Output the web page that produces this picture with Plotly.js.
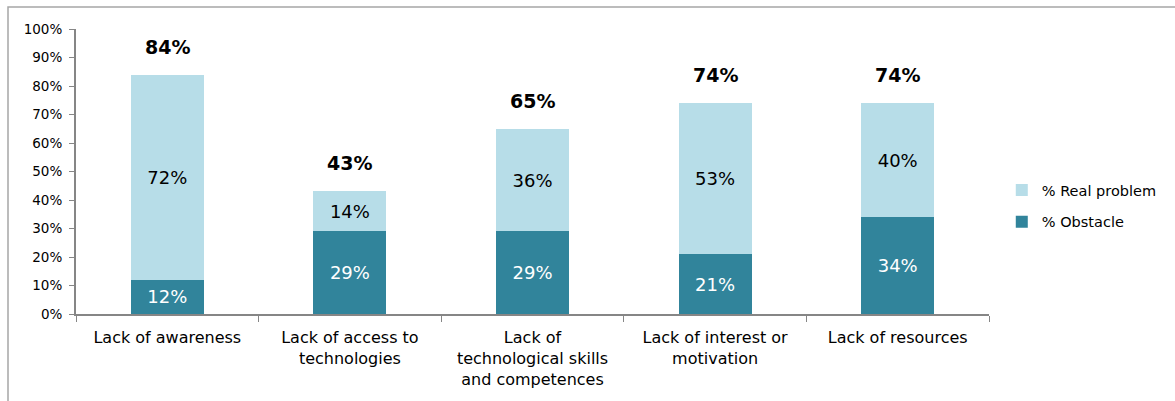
<!DOCTYPE html>
<html>
<head>
<meta charset="utf-8">
<script src="https://cdn.plot.ly/plotly-3.0.1.min.js"></script>
<style>html,body{margin:0;padding:0;background:#fff;}#chart{width:1175px;height:401px;}</style>
</head>
<body>
<div id="chart"></div>
<script>
const categories = [
  "Lack of awareness",
  "Lack of access to<br>technologies",
  "Lack of<br>technological skills<br>and competences",
  "Lack of interest or<br>motivation",
  "Lack of resources"
];
const obstacle = [12, 29, 29, 21, 34];
const realProblem = [72, 14, 36, 53, 40];
const totals = [84, 43, 65, 74, 74];
const yTicks = [0, 10, 20, 30, 40, 50, 60, 70, 80, 90, 100];

const FONT = "DejaVu Sans, Verdana, sans-serif";

const traces = [
  {
    type: "bar", name: "% Obstacle", x: categories, y: obstacle,
    marker: {color: "#31849B"},
    text: obstacle.map(v => v + "%"), textposition: "inside", insidetextanchor: "middle",
    textfont: {color: "#ffffff", size: 18, family: FONT},
    legendgroup: "b", legendrank: 2, hoverinfo: "skip"
  },
  {
    type: "bar", name: "% Real problem", x: categories, y: realProblem,
    marker: {color: "#B7DDE8"},
    text: realProblem.map(v => v + "%"), textposition: "inside", insidetextanchor: "middle",
    textfont: {color: "#000000", size: 18, family: FONT},
    legendgroup: "a", legendrank: 1, hoverinfo: "skip"
  }
];

const annotations = categories.map((c, i) => ({
  x: c, y: totals[i], xref: "x", yref: "y",
  text: "<b>" + totals[i] + "%</b>", showarrow: false,
  yanchor: "bottom", yshift: 15,
  font: {size: 19, color: "#000", family: FONT}
}));

const layout = {
  width: 1175, height: 401,
  margin: {l: 76, r: 186, t: 29, b: 87, autoexpand: false},
  barmode: "stack", bargap: 0.6,
  paper_bgcolor: "#fff", plot_bgcolor: "#fff",
  font: {family: FONT, color: "#000"},
  xaxis: {
    showline: true, linecolor: "#868686", linewidth: 2,
    ticks: "outside", tickson: "boundaries", ticklen: 6, tickcolor: "#868686", tickwidth: 1,
    ticklabelstandoff: 8, automargin: false,
    tickfont: {size: 16, family: FONT, color: "#000"}, fixedrange: true
  },
  yaxis: {
    range: [0, 100], tickvals: yTicks, ticktext: yTicks.map(v => v + "%"),
    showgrid: false, zeroline: false, showline: true, linecolor: "#868686", linewidth: 2,
    ticks: "outside", ticklen: 5, tickcolor: "#868686", ticklabelstandoff: 4, automargin: false,
    tickfont: {size: 13.5, family: FONT, color: "#000"}, fixedrange: true
  },
  showlegend: true,
  legend: {
    x: 1.014, y: 0.379, xanchor: "left", yanchor: "middle",
    traceorder: "grouped", tracegroupgap: 10, itemwidth: 30,
    font: {size: 14.5, family: FONT, color: "#000"}, bgcolor: "rgba(0,0,0,0)"
  },
  annotations: annotations,
  shapes: [{
    type: "rect", xref: "paper", yref: "paper",
    x0: -68 / 913, x1: 1.25, y0: -0.5, y1: 1 + 22 / 285,
    line: {color: "#A6A6A6", width: 1.5}, fillcolor: "rgba(0,0,0,0)", layer: "below"
  }]
};

Plotly.newPlot("chart", traces, layout, {displayModeBar: false, staticPlot: true});
</script>
</body>
</html>
